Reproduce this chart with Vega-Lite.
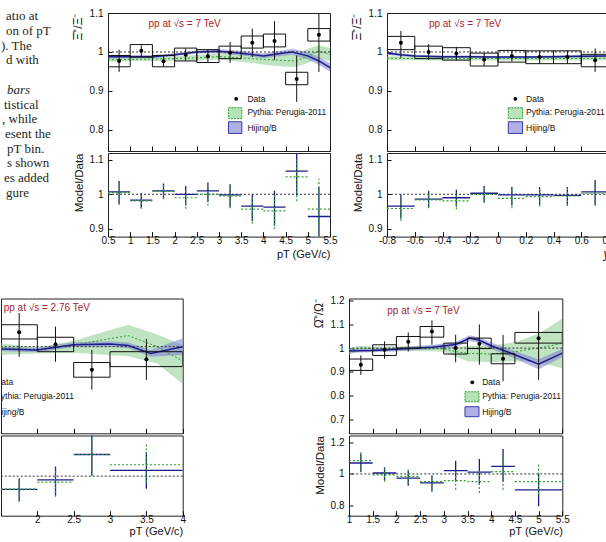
{
"$schema":"https://vega.github.io/schema/vega-lite/v6.json",
"padding":{"left":0,"top":7,"right":0,"bottom":0},
"background":"#ffffff",
"config":{
 "view":{"stroke":"#222","strokeWidth":1},
 "axis":{"grid":false,"domain":false,"labelFont":"Liberation Sans","labelFontSize":10,"labelColor":"#111","tickColor":"#111","tickWidth":1,"titleFont":"Liberation Sans","titleFontWeight":"normal","titleColor":"#111","titleFontSize":11,"labelFlush":false,"labelOverlap":false,"tickCount":30}
},
"datasets":{
 "one":[{"v":1}],
 "txt":[
  {"line":1,"indent":5,"t":"atio at","it":0},
  {"line":2,"indent":5,"t":"on of pT","it":0},
  {"line":3,"indent":0,"t":"). The","it":0},
  {"line":4,"indent":5,"t":"d with","it":0},
  {"line":6,"indent":6,"t":"bars","it":1},
  {"line":7,"indent":3,"t":"tistical","it":0},
  {"line":8,"indent":1,"t":", while","it":0},
  {"line":9,"indent":4,"t":"esent the","it":0},
  {"line":10,"indent":6,"t":"pT bin.","it":0},
  {"line":11,"indent":6,"t":"s shown","it":0},
  {"line":12,"indent":3,"t":"es added","it":0},
  {"line":13,"indent":5,"t":"gure","it":0}
 ],
 "pts":[
  {"p":"A","x":0.75,"xlo":0.5,"xhi":1,"y":0.977,"elo":0.949,"ehi":1.006,"slo":0.962,"shi":0.991},
  {"p":"A","x":1.25,"xlo":1,"xhi":1.5,"y":1.003,"elo":0.987,"ehi":1.017,"slo":0.987,"shi":1.019},
  {"p":"A","x":1.75,"xlo":1.5,"xhi":2,"y":0.976,"elo":0.963,"ehi":0.989,"slo":0.962,"shi":0.991},
  {"p":"A","x":2.25,"xlo":2,"xhi":2.5,"y":0.993,"elo":0.977,"ehi":1.009,"slo":0.977,"shi":1.01},
  {"p":"A","x":2.75,"xlo":2.5,"xhi":3,"y":0.989,"elo":0.972,"ehi":1.006,"slo":0.973,"shi":1.006},
  {"p":"A","x":3.25,"xlo":3,"xhi":3.5,"y":0.998,"elo":0.972,"ehi":1.026,"slo":0.983,"shi":1.015},
  {"p":"A","x":3.75,"xlo":3.5,"xhi":4,"y":1.024,"elo":0.987,"ehi":1.06,"slo":1.01,"shi":1.041},
  {"p":"A","x":4.25,"xlo":4,"xhi":4.5,"y":1.028,"elo":0.98,"ehi":1.079,"slo":1.013,"shi":1.046},
  {"p":"A","x":4.75,"xlo":4.5,"xhi":5,"y":0.931,"elo":0.872,"ehi":0.991,"slo":0.916,"shi":0.948},
  {"p":"A","x":5.25,"xlo":5,"xhi":5.5,"y":1.044,"elo":0.949,"ehi":1.1,"slo":1.028,"shi":1.06},
  {"p":"B","x":-0.7,"xlo":-0.8,"xhi":-0.6,"y":1.024,"elo":0.985,"ehi":1.054,"slo":1.006,"shi":1.04},
  {"p":"B","x":-0.5,"xlo":-0.6,"xhi":-0.4,"y":1.0,"elo":0.98,"ehi":1.02,"slo":0.983,"shi":1.015},
  {"p":"B","x":-0.3,"xlo":-0.4,"xhi":-0.2,"y":0.996,"elo":0.979,"ehi":1.013,"slo":0.979,"shi":1.011},
  {"p":"B","x":-0.1,"xlo":-0.2,"xhi":0,"y":0.981,"elo":0.964,"ehi":0.997,"slo":0.964,"shi":0.997},
  {"p":"B","x":0.1,"xlo":0,"xhi":0.2,"y":0.99,"elo":0.976,"ehi":1.004,"slo":0.974,"shi":1.004},
  {"p":"B","x":0.3,"xlo":0.2,"xhi":0.4,"y":0.987,"elo":0.97,"ehi":1.004,"slo":0.97,"shi":1.003},
  {"p":"B","x":0.5,"xlo":0.4,"xhi":0.6,"y":0.987,"elo":0.97,"ehi":1.004,"slo":0.97,"shi":1.003},
  {"p":"B","x":0.7,"xlo":0.6,"xhi":0.8,"y":0.979,"elo":0.949,"ehi":1.009,"slo":0.962,"shi":0.994},
  {"p":"C","x":1.75,"xlo":1.5,"xhi":2,"y":1.06,"elo":0.958,"ehi":1.14,"slo":1.032,"shi":1.091},
  {"p":"C","x":2.25,"xlo":2,"xhi":2.5,"y":1.01,"elo":0.937,"ehi":1.083,"slo":0.979,"shi":1.039},
  {"p":"C","x":2.75,"xlo":2.5,"xhi":3,"y":0.904,"elo":0.821,"ehi":0.986,"slo":0.873,"shi":0.934},
  {"p":"C","x":3.5,"xlo":3,"xhi":4,"y":0.948,"elo":0.862,"ehi":1.032,"slo":0.917,"shi":0.979},
  {"p":"D","x":1.25,"xlo":1,"xhi":1.5,"y":0.93,"elo":0.887,"ehi":0.969,"slo":0.906,"shi":0.954},
  {"p":"D","x":1.75,"xlo":1.5,"xhi":2,"y":0.993,"elo":0.955,"ehi":1.028,"slo":0.969,"shi":1.014},
  {"p":"D","x":2.25,"xlo":2,"xhi":2.5,"y":1.027,"elo":0.986,"ehi":1.066,"slo":1.0,"shi":1.049},
  {"p":"D","x":2.75,"xlo":2.5,"xhi":3,"y":1.07,"elo":1.014,"ehi":1.117,"slo":1.046,"shi":1.091},
  {"p":"D","x":3.25,"xlo":3,"xhi":3.5,"y":1.0,"elo":0.94,"ehi":1.056,"slo":0.975,"shi":1.021},
  {"p":"D","x":3.75,"xlo":3.5,"xhi":4,"y":1.018,"elo":0.93,"ehi":1.1,"slo":0.998,"shi":1.042},
  {"p":"D","x":4.25,"xlo":4,"xhi":4.5,"y":0.955,"elo":0.86,"ehi":1.056,"slo":0.934,"shi":0.976},
  {"p":"D","x":5,"xlo":4.5,"xhi":5.5,"y":1.042,"elo":0.866,"ehi":1.155,"slo":1.021,"shi":1.066}
 ],
 "band":[
  {"p":"A","m":"P","x":0.5,"c":0.98,"lo":0.975,"hi":0.985},
  {"p":"A","m":"P","x":1,"c":0.981,"lo":0.976,"hi":0.986},
  {"p":"A","m":"P","x":1.5,"c":0.982,"lo":0.977,"hi":0.987},
  {"p":"A","m":"P","x":2,"c":0.983,"lo":0.977,"hi":0.989},
  {"p":"A","m":"P","x":2.5,"c":0.985,"lo":0.978,"hi":0.992},
  {"p":"A","m":"P","x":3,"c":0.988,"lo":0.98,"hi":0.996},
  {"p":"A","m":"P","x":3.5,"c":0.985,"lo":0.975,"hi":0.995},
  {"p":"A","m":"P","x":4,"c":0.981,"lo":0.968,"hi":0.994},
  {"p":"A","m":"P","x":4.5,"c":0.978,"lo":0.962,"hi":0.995},
  {"p":"A","m":"P","x":4.75,"c":0.977,"lo":0.962,"hi":0.995},
  {"p":"A","m":"P","x":5,"c":0.99,"lo":0.972,"hi":1.008},
  {"p":"A","m":"P","x":5.25,"c":1.002,"lo":0.984,"hi":1.017},
  {"p":"A","m":"P","x":5.5,"c":0.994,"lo":0.976,"hi":1.01},
  {"p":"A","m":"H","x":0.5,"c":0.988,"lo":0.983,"hi":0.993},
  {"p":"A","m":"H","x":1,"c":0.988,"lo":0.984,"hi":0.992},
  {"p":"A","m":"H","x":1.5,"c":0.988,"lo":0.984,"hi":0.992},
  {"p":"A","m":"H","x":2,"c":0.993,"lo":0.989,"hi":0.997},
  {"p":"A","m":"H","x":2.5,"c":1.0,"lo":0.996,"hi":1.004},
  {"p":"A","m":"H","x":3,"c":1.002,"lo":0.997,"hi":1.007},
  {"p":"A","m":"H","x":3.5,"c":0.997,"lo":0.991,"hi":1.003},
  {"p":"A","m":"H","x":4,"c":0.99,"lo":0.984,"hi":0.996},
  {"p":"A","m":"H","x":4.5,"c":0.998,"lo":0.991,"hi":1.005},
  {"p":"A","m":"H","x":4.65,"c":1.0,"lo":0.993,"hi":1.008},
  {"p":"A","m":"H","x":5,"c":0.99,"lo":0.981,"hi":0.999},
  {"p":"A","m":"H","x":5.25,"c":0.977,"lo":0.967,"hi":0.987},
  {"p":"A","m":"H","x":5.5,"c":0.96,"lo":0.949,"hi":0.971},
  {"p":"B","m":"P","x":-0.8,"c":0.984,"lo":0.979,"hi":0.989},
  {"p":"B","m":"P","x":-0.4,"c":0.983,"lo":0.978,"hi":0.988},
  {"p":"B","m":"P","x":0,"c":0.983,"lo":0.978,"hi":0.988},
  {"p":"B","m":"P","x":0.4,"c":0.983,"lo":0.978,"hi":0.988},
  {"p":"B","m":"P","x":0.8,"c":0.984,"lo":0.979,"hi":0.989},
  {"p":"B","m":"H","x":-0.8,"c":0.997,"lo":0.993,"hi":1.001},
  {"p":"B","m":"H","x":-0.7,"c":0.993,"lo":0.989,"hi":0.997},
  {"p":"B","m":"H","x":-0.6,"c":0.99,"lo":0.987,"hi":0.993},
  {"p":"B","m":"H","x":-0.4,"c":0.988,"lo":0.985,"hi":0.991},
  {"p":"B","m":"H","x":-0.2,"c":0.988,"lo":0.985,"hi":0.991},
  {"p":"B","m":"H","x":0,"c":0.987,"lo":0.984,"hi":0.99},
  {"p":"B","m":"H","x":0.2,"c":0.987,"lo":0.984,"hi":0.99},
  {"p":"B","m":"H","x":0.4,"c":0.988,"lo":0.985,"hi":0.991},
  {"p":"B","m":"H","x":0.6,"c":0.989,"lo":0.986,"hi":0.992},
  {"p":"B","m":"H","x":0.8,"c":0.99,"lo":0.987,"hi":0.993},
  {"p":"C","m":"P","x":1.5,"c":0.995,"lo":0.965,"hi":1.014},
  {"p":"C","m":"P","x":2,"c":0.986,"lo":0.972,"hi":0.996},
  {"p":"C","m":"P","x":2.5,"c":1.007,"lo":0.975,"hi":1.025},
  {"p":"C","m":"P","x":3.25,"c":1.046,"lo":0.96,"hi":1.091},
  {"p":"C","m":"P","x":3.65,"c":1.0,"lo":0.93,"hi":1.05},
  {"p":"C","m":"P","x":4,"c":0.94,"lo":0.845,"hi":1.007},
  {"p":"C","m":"H","x":1.5,"c":0.99,"lo":0.981,"hi":0.999},
  {"p":"C","m":"H","x":2,"c":0.986,"lo":0.977,"hi":0.995},
  {"p":"C","m":"H","x":2.5,"c":1.008,"lo":0.998,"hi":1.018},
  {"p":"C","m":"H","x":3,"c":1.011,"lo":1.0,"hi":1.022},
  {"p":"C","m":"H","x":3.25,"c":1.005,"lo":0.993,"hi":1.017},
  {"p":"C","m":"H","x":3.56,"c":0.972,"lo":0.958,"hi":0.986},
  {"p":"C","m":"H","x":4,"c":1.0,"lo":0.965,"hi":1.035},
  {"p":"D","m":"P","x":1,"c":0.99,"lo":0.972,"hi":1.0},
  {"p":"D","m":"P","x":1.25,"c":1.0,"lo":0.99,"hi":1.01},
  {"p":"D","m":"P","x":1.5,"c":0.997,"lo":0.987,"hi":1.007},
  {"p":"D","m":"P","x":2,"c":0.997,"lo":0.987,"hi":1.008},
  {"p":"D","m":"P","x":2.5,"c":0.998,"lo":0.988,"hi":1.01},
  {"p":"D","m":"P","x":3,"c":0.997,"lo":0.985,"hi":1.01},
  {"p":"D","m":"P","x":3.25,"c":0.985,"lo":0.965,"hi":1.005},
  {"p":"D","m":"P","x":3.5,"c":0.978,"lo":0.945,"hi":1.01},
  {"p":"D","m":"P","x":4,"c":0.975,"lo":0.94,"hi":1.01},
  {"p":"D","m":"P","x":4.5,"c":0.985,"lo":0.945,"hi":1.025},
  {"p":"D","m":"P","x":5,"c":1.0,"lo":0.94,"hi":1.06},
  {"p":"D","m":"P","x":5.5,"c":1.02,"lo":0.915,"hi":1.125},
  {"p":"D","m":"H","x":1,"c":0.988,"lo":0.98,"hi":0.996},
  {"p":"D","m":"H","x":1.5,"c":0.99,"lo":0.982,"hi":0.998},
  {"p":"D","m":"H","x":2,"c":0.995,"lo":0.987,"hi":1.003},
  {"p":"D","m":"H","x":2.75,"c":1.004,"lo":0.995,"hi":1.013},
  {"p":"D","m":"H","x":3.25,"c":1.015,"lo":1.004,"hi":1.026},
  {"p":"D","m":"H","x":3.55,"c":1.042,"lo":1.03,"hi":1.054},
  {"p":"D","m":"H","x":3.75,"c":1.033,"lo":1.021,"hi":1.045},
  {"p":"D","m":"H","x":4,"c":1.01,"lo":0.996,"hi":1.024},
  {"p":"D","m":"H","x":4.5,"c":0.972,"lo":0.956,"hi":0.988},
  {"p":"D","m":"H","x":5,"c":0.932,"lo":0.911,"hi":0.953},
  {"p":"D","m":"H","x":5.5,"c":0.979,"lo":0.962,"hi":0.996}
 ],
 "ratio":[
  {"p":"A","m":"H","x":0.75,"xlo":0.5,"xhi":1,"r":1.007,"rlo":0.971,"rhi":1.038},
  {"p":"A","m":"H","x":1.25,"xlo":1,"xhi":1.5,"r":0.983,"rlo":0.96,"rhi":1.003},
  {"p":"A","m":"H","x":1.75,"xlo":1.5,"xhi":2,"r":1.01,"rlo":0.988,"rhi":1.031},
  {"p":"A","m":"H","x":2.25,"xlo":2,"xhi":2.5,"r":1.0,"rlo":0.968,"rhi":1.024},
  {"p":"A","m":"H","x":2.75,"xlo":2.5,"xhi":3,"r":1.01,"rlo":0.978,"rhi":1.034},
  {"p":"A","m":"H","x":3.25,"xlo":3,"xhi":3.5,"r":0.998,"rlo":0.963,"rhi":1.029},
  {"p":"A","m":"H","x":3.75,"xlo":3.5,"xhi":4,"r":0.966,"rlo":0.923,"rhi":1.0},
  {"p":"A","m":"H","x":4.25,"xlo":4,"xhi":4.5,"r":0.963,"rlo":0.909,"rhi":1.01},
  {"p":"A","m":"H","x":4.75,"xlo":4.5,"xhi":5,"r":1.067,"rlo":0.997,"rhi":1.12},
  {"p":"A","m":"H","x":5.25,"xlo":5,"xhi":5.5,"r":0.936,"rlo":0.877,"rhi":1.02},
  {"p":"A","m":"P","x":0.75,"xlo":0.5,"xhi":1,"r":1.005,"rlo":0.97,"rhi":1.037},
  {"p":"A","m":"P","x":1.25,"xlo":1,"xhi":1.5,"r":0.981,"rlo":0.958,"rhi":1.001},
  {"p":"A","m":"P","x":1.75,"xlo":1.5,"xhi":2,"r":1.008,"rlo":0.986,"rhi":1.029},
  {"p":"A","m":"P","x":2.25,"xlo":2,"xhi":2.5,"r":0.99,"rlo":0.958,"rhi":1.014},
  {"p":"A","m":"P","x":2.75,"xlo":2.5,"xhi":3,"r":1.0,"rlo":0.968,"rhi":1.024},
  {"p":"A","m":"P","x":3.25,"xlo":3,"xhi":3.5,"r":0.995,"rlo":0.96,"rhi":1.026},
  {"p":"A","m":"P","x":3.75,"xlo":3.5,"xhi":4,"r":0.957,"rlo":0.915,"rhi":0.992},
  {"p":"A","m":"P","x":4.25,"xlo":4,"xhi":4.5,"r":0.952,"rlo":0.899,"rhi":0.998},
  {"p":"A","m":"P","x":4.75,"xlo":4.5,"xhi":5,"r":1.05,"rlo":0.98,"rhi":1.1},
  {"p":"A","m":"P","x":5.25,"xlo":5,"xhi":5.5,"r":0.957,"rlo":0.88,"rhi":1.045},
  {"p":"B","m":"H","x":-0.7,"xlo":-0.8,"xhi":-0.6,"r":0.966,"rlo":0.93,"rhi":1.0},
  {"p":"B","m":"H","x":-0.5,"xlo":-0.6,"xhi":-0.4,"r":0.986,"rlo":0.962,"rhi":1.01},
  {"p":"B","m":"H","x":-0.3,"xlo":-0.4,"xhi":-0.2,"r":0.99,"rlo":0.965,"rhi":1.013},
  {"p":"B","m":"H","x":-0.1,"xlo":-0.2,"xhi":0,"r":1.003,"rlo":0.978,"rhi":1.024},
  {"p":"B","m":"H","x":0.1,"xlo":0,"xhi":0.2,"r":0.998,"rlo":0.968,"rhi":1.022},
  {"p":"B","m":"H","x":0.3,"xlo":0.2,"xhi":0.4,"r":0.998,"rlo":0.97,"rhi":1.021},
  {"p":"B","m":"H","x":0.5,"xlo":0.4,"xhi":0.6,"r":0.997,"rlo":0.968,"rhi":1.021},
  {"p":"B","m":"H","x":0.7,"xlo":0.6,"xhi":0.8,"r":1.007,"rlo":0.97,"rhi":1.041},
  {"p":"B","m":"P","x":-0.7,"xlo":-0.8,"xhi":-0.6,"r":0.959,"rlo":0.924,"rhi":0.994},
  {"p":"B","m":"P","x":-0.5,"xlo":-0.6,"xhi":-0.4,"r":0.984,"rlo":0.96,"rhi":1.008},
  {"p":"B","m":"P","x":-0.3,"xlo":-0.4,"xhi":-0.2,"r":0.981,"rlo":0.957,"rhi":1.004},
  {"p":"B","m":"P","x":-0.1,"xlo":-0.2,"xhi":0,"r":1.0,"rlo":0.975,"rhi":1.021},
  {"p":"B","m":"P","x":0.1,"xlo":0,"xhi":0.2,"r":0.988,"rlo":0.96,"rhi":1.013},
  {"p":"B","m":"P","x":0.3,"xlo":0.2,"xhi":0.4,"r":0.993,"rlo":0.965,"rhi":1.016},
  {"p":"B","m":"P","x":0.5,"xlo":0.4,"xhi":0.6,"r":0.995,"rlo":0.966,"rhi":1.019},
  {"p":"B","m":"P","x":0.7,"xlo":0.6,"xhi":0.8,"r":1.003,"rlo":0.966,"rhi":1.037},
  {"p":"C","m":"H","x":1.75,"xlo":1.5,"xhi":2,"r":0.916,"rlo":0.84,"rhi":0.987},
  {"p":"C","m":"H","x":2.25,"xlo":2,"xhi":2.5,"r":0.977,"rlo":0.878,"rhi":1.061},
  {"p":"C","m":"H","x":2.75,"xlo":2.5,"xhi":3,"r":1.137,"rlo":1.004,"rhi":1.26},
  {"p":"C","m":"H","x":3.5,"xlo":3,"xhi":4,"r":1.036,"rlo":0.92,"rhi":1.152},
  {"p":"C","m":"P","x":1.75,"xlo":1.5,"xhi":2,"r":0.918,"rlo":0.842,"rhi":0.99},
  {"p":"C","m":"P","x":2.25,"xlo":2,"xhi":2.5,"r":0.962,"rlo":0.87,"rhi":1.05},
  {"p":"C","m":"P","x":2.75,"xlo":2.5,"xhi":3,"r":1.137,"rlo":1.0,"rhi":1.26},
  {"p":"C","m":"P","x":3.5,"xlo":3,"xhi":4,"r":1.072,"rlo":0.96,"rhi":1.205},
  {"p":"D","m":"H","x":1.25,"xlo":1,"xhi":1.5,"r":1.069,"rlo":1.01,"rhi":1.126},
  {"p":"D","m":"H","x":1.75,"xlo":1.5,"xhi":2,"r":1.006,"rlo":0.96,"rhi":1.042},
  {"p":"D","m":"H","x":2.25,"xlo":2,"xhi":2.5,"r":0.973,"rlo":0.926,"rhi":1.021},
  {"p":"D","m":"H","x":2.75,"xlo":2.5,"xhi":3,"r":0.943,"rlo":0.888,"rhi":0.99},
  {"p":"D","m":"H","x":3.25,"xlo":3,"xhi":3.5,"r":1.021,"rlo":0.95,"rhi":1.084},
  {"p":"D","m":"H","x":3.75,"xlo":3.5,"xhi":4,"r":1.011,"rlo":0.93,"rhi":1.095},
  {"p":"D","m":"H","x":4.25,"xlo":4,"xhi":4.5,"r":1.048,"rlo":0.95,"rhi":1.158},
  {"p":"D","m":"H","x":5,"xlo":4.5,"xhi":5.5,"r":0.899,"rlo":0.796,"rhi":1.0},
  {"p":"D","m":"P","x":1.25,"xlo":1,"xhi":1.5,"r":1.084,"rlo":1.025,"rhi":1.14},
  {"p":"D","m":"P","x":1.75,"xlo":1.5,"xhi":2,"r":0.994,"rlo":0.95,"rhi":1.035},
  {"p":"D","m":"P","x":2.25,"xlo":2,"xhi":2.5,"r":0.985,"rlo":0.94,"rhi":1.03},
  {"p":"D","m":"P","x":2.75,"xlo":2.5,"xhi":3,"r":0.952,"rlo":0.9,"rhi":1.0},
  {"p":"D","m":"P","x":3.25,"xlo":3,"xhi":3.5,"r":0.958,"rlo":0.9,"rhi":1.02},
  {"p":"D","m":"P","x":3.75,"xlo":3.5,"xhi":4,"r":0.952,"rlo":0.88,"rhi":1.02},
  {"p":"D","m":"P","x":4.25,"xlo":4,"xhi":4.5,"r":1.015,"rlo":0.9,"rhi":1.12},
  {"p":"D","m":"P","x":5,"xlo":4.5,"xhi":5.5,"r":0.952,"rlo":0.87,"rhi":1.07}
 ],
 "legtxt":[
  {"p":"A","t":"Data","x":3.64,"y":0.88},{"p":"A","t":"Pythia: Perugia-2011","x":3.64,"y":0.845},{"p":"A","t":"Hijing/B","x":3.64,"y":0.806},
  {"p":"B","t":"Data","x":0.202,"y":0.88},{"p":"B","t":"Pythia: Perugia-2011","x":0.202,"y":0.845},{"p":"B","t":"Hijing/B","x":0.202,"y":0.806},
  {"p":"C","t":"Data","x":1.42,"y":0.852},{"p":"C","t":"Pythia: Perugia-2011","x":1.42,"y":0.795},{"p":"C","t":"Hijing/B","x":1.42,"y":0.73},
  {"p":"D","t":"Data","x":3.81,"y":0.856},{"p":"D","t":"Pythia: Perugia-2011","x":3.81,"y":0.798},{"p":"D","t":"Hijing/B","x":3.81,"y":0.732}
 ],
 "legdot":[{"p":"A","x":3.387,"y":0.88},{"p":"B","x":0.125,"y":0.88},{"p":"D","x":3.6,"y":0.856}],
 "legbox":[
  {"p":"A","m":"P","xa":3.214,"xb":3.514,"ya":0.829,"yb":0.857},{"p":"A","m":"H","xa":3.214,"xb":3.514,"ya":0.791,"yb":0.821},
  {"p":"B","m":"P","xa":0.074,"xb":0.177,"ya":0.829,"yb":0.857},{"p":"B","m":"H","xa":0.074,"xb":0.177,"ya":0.791,"yb":0.821},
  {"p":"D","m":"P","xa":3.447,"xb":3.742,"ya":0.774,"yb":0.816},{"p":"D","m":"H","xa":3.447,"xb":3.742,"ya":0.711,"yb":0.753}
 ],
 "ttl":[
  {"p":"A","t":"pp at \u221As = 7 TeV","x":1.412,"y":1.071},
  {"p":"B","t":"pp at \u221As = 7 TeV","x":-0.498,"y":1.071},
  {"p":"C","t":"pp at \u221As = 2.76 TeV","x":1.537,"y":1.162},
  {"p":"D","t":"pp at \u221As = 7 TeV","x":1.808,"y":1.158}
 ]
},
"spacing":34.5,
"vconcat":[
 {"spacing":11,"hconcat":[
  {"width":57.5,"height":210,"view":{"stroke":"transparent"},"data":{"name":"txt"},"layer":[
   {"transform":[{"filter":"datum.it==0"}],"mark":{"type":"text","align":"left","baseline":"alphabetic","font":"Liberation Serif","fontSize":13,"color":"#231f20","clip":true},
    "encoding":{"x":{"field":"indent","type":"quantitative","scale":{"domain":[0,57.5],"nice":false,"zero":false},"axis":null},"y":{"field":"line","type":"quantitative","scale":{"domain":[0.503,14.789],"reverse":true,"nice":false,"zero":false},"axis":null},"text":{"field":"t"}}},
   {"transform":[{"filter":"datum.it==1"}],"mark":{"type":"text","align":"left","baseline":"alphabetic","font":"Liberation Serif","fontSize":13,"fontStyle":"italic","color":"#231f20","clip":true},
    "encoding":{"x":{"field":"indent","type":"quantitative","axis":null},"y":{"field":"line","type":"quantitative","axis":null},"text":{"field":"t"}}}
  ]},
  {"spacing":0,"vconcat":[
   {"width":222,"height":138,"layer":[
    {"data":{"name":"band"},"transform":[{"filter":"datum.p=='A'&&datum.m=='P'"}],"mark":{"type":"area","color":"#74c476","opacity":0.45,"clip":true},
     "encoding":{"x":{"field":"x","type":"quantitative","scale":{"domain":[0.5,5.5],"nice":false,"zero":false},"axis":{"values":[0.5,1,1.5,2,2.5,3,3.5,4,4.5,5,5.5],"tickCount":30,"labels":false,"tickSize":-5,"title":null}},
      "y":{"field":"lo","type":"quantitative","scale":{"domain":[0.746,1.1],"nice":false,"zero":false},"axis":{"values":[0.8,0.9,1,1.1],"tickCount":30,"format":".1~f","labelOverlap":false,"tickSize":-4,"labelPadding":9,"title":"\u039E\u0304\u207A/\u039E\u207B","titleAnchor":"end","titleFontSize":12,"titlePadding":5}},
      "y2":{"field":"hi"}}},
    {"data":{"name":"band"},"transform":[{"filter":"datum.p=='A'&&datum.m=='H'"}],"mark":{"type":"area","color":"#7b7bd6","opacity":0.55,"clip":true},
     "encoding":{"x":{"field":"x","type":"quantitative"},"y":{"field":"lo","type":"quantitative"},"y2":{"field":"hi"}}},
    {"data":{"name":"band"},"transform":[{"filter":"datum.p=='A'&&datum.m=='P'"}],"mark":{"type":"line","color":"#2ca02c","strokeWidth":1,"strokeDash":[2,2],"clip":true},
     "encoding":{"x":{"field":"x","type":"quantitative"},"y":{"field":"c","type":"quantitative"}}},
    {"data":{"name":"band"},"transform":[{"filter":"datum.p=='A'&&datum.m=='H'"}],"mark":{"type":"line","color":"#1c1c8a","strokeWidth":1.5,"clip":true},
     "encoding":{"x":{"field":"x","type":"quantitative"},"y":{"field":"c","type":"quantitative"}}},
    {"data":{"name":"one"},"mark":{"type":"rule","color":"#333","strokeDash":[2,2],"strokeWidth":1},"encoding":{"y":{"field":"v","type":"quantitative"}}},
    {"data":{"name":"pts"},"transform":[{"filter":"datum.p=='A'"}],"mark":{"type":"rect","fill":"transparent","stroke":"#111","strokeWidth":1,"clip":true},
     "encoding":{"x":{"field":"xlo","type":"quantitative"},"x2":{"field":"xhi"},"y":{"field":"slo","type":"quantitative"},"y2":{"field":"shi"}}},
    {"data":{"name":"pts"},"transform":[{"filter":"datum.p=='A'"}],"mark":{"type":"rule","color":"#111","strokeWidth":1,"clip":true},
     "encoding":{"x":{"field":"x","type":"quantitative"},"y":{"field":"elo","type":"quantitative"},"y2":{"field":"ehi"}}},
    {"data":{"name":"pts"},"transform":[{"filter":"datum.p=='A'"}],"mark":{"type":"circle","color":"#000","size":16,"opacity":1},
     "encoding":{"x":{"field":"x","type":"quantitative"},"y":{"field":"y","type":"quantitative"}}},
    {"data":{"name":"legbox"},"transform":[{"filter":"datum.p=='A'&&datum.m=='P'"}],"mark":{"type":"rect","fill":"#74c476","fillOpacity":0.5,"stroke":"#2ca02c","strokeDash":[2,1],"strokeWidth":1},
     "encoding":{"x":{"field":"xa","type":"quantitative"},"x2":{"field":"xb"},"y":{"field":"ya","type":"quantitative"},"y2":{"field":"yb"}}},
    {"data":{"name":"legbox"},"transform":[{"filter":"datum.p=='A'&&datum.m=='H'"}],"mark":{"type":"rect","fill":"#7b7bd6","fillOpacity":0.6,"stroke":"#3a3aa8","strokeWidth":1},
     "encoding":{"x":{"field":"xa","type":"quantitative"},"x2":{"field":"xb"},"y":{"field":"ya","type":"quantitative"},"y2":{"field":"yb"}}},
    {"data":{"name":"legdot"},"transform":[{"filter":"datum.p=='A'"}],"mark":{"type":"circle","color":"#000","size":14,"opacity":1},
     "encoding":{"x":{"field":"x","type":"quantitative"},"y":{"field":"y","type":"quantitative"}}},
    {"data":{"name":"legtxt"},"transform":[{"filter":"datum.p=='A'"}],"mark":{"type":"text","align":"left","baseline":"middle","fontSize":8.5,"font":"Liberation Sans","color":"#111","clip":true},
     "encoding":{"x":{"field":"x","type":"quantitative"},"y":{"field":"y","type":"quantitative"},"text":{"field":"t"}}},
    {"data":{"name":"ttl"},"transform":[{"filter":"datum.p=='A'"}],"mark":{"type":"text","align":"left","baseline":"middle","fontSize":10,"font":"Liberation Sans","color":"#a8232e","clip":true},
     "encoding":{"x":{"field":"x","type":"quantitative"},"y":{"field":"y","type":"quantitative"},"text":{"field":"t"}}}
   ]},
   {"width":222,"height":83.6,"layer":[
    {"data":{"name":"one"},"mark":{"type":"rule","color":"#333","strokeDash":[2,2],"strokeWidth":1},"encoding":{"y":{"field":"v","type":"quantitative"}}},
    {"data":{"name":"ratio"},"transform":[{"filter":"datum.p=='A'&&datum.m=='H'"}],"mark":{"type":"rule","color":"#1c1c8a","strokeWidth":1.3,"clip":true},
     "encoding":{"x":{"field":"xlo","type":"quantitative","scale":{"domain":[0.5,5.5],"nice":false,"zero":false},"axis":{"values":[0.5,1,1.5,2,2.5,3,3.5,4,4.5,5,5.5],"tickCount":30,"format":".1~f","labelOverlap":false,"tickSize":-5,"labelPadding":4,"title":"pT (GeV/c)","titleAnchor":"end","titlePadding":2.5}},"x2":{"field":"xhi"},
      "y":{"field":"r","type":"quantitative","scale":{"domain":[0.878,1.119],"nice":false,"zero":false},"axis":{"values":[0.9,1,1.1],"tickCount":30,"format":".1~f","labelOverlap":false,"tickSize":-4,"labelPadding":9,"title":"Model/Data","titleAnchor":"end","titleFontSize":11.5,"titlePadding":5}}}},
    {"data":{"name":"ratio"},"transform":[{"filter":"datum.p=='A'&&datum.m=='H'"}],"mark":{"type":"rule","color":"#1c1c8a","strokeWidth":1.3,"clip":true},
     "encoding":{"x":{"field":"x","type":"quantitative"},"y":{"field":"rlo","type":"quantitative"},"y2":{"field":"rhi"}}},
    {"data":{"name":"ratio"},"transform":[{"filter":"datum.p=='A'&&datum.m=='P'"}],"mark":{"type":"rule","color":"#2ca02c","strokeWidth":1.2,"strokeDash":[2,2],"clip":true},
     "encoding":{"x":{"field":"xlo","type":"quantitative"},"x2":{"field":"xhi"},"y":{"field":"r","type":"quantitative"}}},
    {"data":{"name":"ratio"},"transform":[{"filter":"datum.p=='A'&&datum.m=='P'"}],"mark":{"type":"rule","color":"#2ca02c","strokeWidth":1.2,"strokeDash":[2,2],"clip":true},
     "encoding":{"x":{"field":"x","type":"quantitative"},"y":{"field":"rlo","type":"quantitative"},"y2":{"field":"rhi"}}}
   ]}
  ]},
  {"spacing":0,"vconcat":[
   {"width":222,"height":138,"layer":[
    {"data":{"name":"band"},"transform":[{"filter":"datum.p=='B'&&datum.m=='P'"}],"mark":{"type":"area","color":"#74c476","opacity":0.45,"clip":true},
     "encoding":{"x":{"field":"x","type":"quantitative","scale":{"domain":[-0.8,0.8],"nice":false,"zero":false},"axis":{"values":[-0.8,-0.6,-0.4,-0.2,0,0.2,0.4,0.6,0.8],"tickCount":30,"labels":false,"tickSize":-5,"title":null}},
      "y":{"field":"lo","type":"quantitative","scale":{"domain":[0.746,1.1],"nice":false,"zero":false},"axis":{"values":[0.8,0.9,1,1.1],"tickCount":30,"format":".1~f","labelOverlap":false,"tickSize":-4,"labelPadding":9,"title":"\u039E\u0304\u207A/\u039E\u207B","titleAnchor":"end","titleFontSize":12,"titlePadding":5}},
      "y2":{"field":"hi"}}},
    {"data":{"name":"band"},"transform":[{"filter":"datum.p=='B'&&datum.m=='H'"}],"mark":{"type":"area","color":"#7b7bd6","opacity":0.55,"clip":true},
     "encoding":{"x":{"field":"x","type":"quantitative"},"y":{"field":"lo","type":"quantitative"},"y2":{"field":"hi"}}},
    {"data":{"name":"band"},"transform":[{"filter":"datum.p=='B'&&datum.m=='P'"}],"mark":{"type":"line","color":"#2ca02c","strokeWidth":1,"strokeDash":[2,2],"clip":true},
     "encoding":{"x":{"field":"x","type":"quantitative"},"y":{"field":"c","type":"quantitative"}}},
    {"data":{"name":"band"},"transform":[{"filter":"datum.p=='B'&&datum.m=='H'"}],"mark":{"type":"line","color":"#1c1c8a","strokeWidth":1.5,"clip":true},
     "encoding":{"x":{"field":"x","type":"quantitative"},"y":{"field":"c","type":"quantitative"}}},
    {"data":{"name":"one"},"mark":{"type":"rule","color":"#333","strokeDash":[2,2],"strokeWidth":1},"encoding":{"y":{"field":"v","type":"quantitative"}}},
    {"data":{"name":"pts"},"transform":[{"filter":"datum.p=='B'"}],"mark":{"type":"rect","fill":"transparent","stroke":"#111","strokeWidth":1,"clip":true},
     "encoding":{"x":{"field":"xlo","type":"quantitative"},"x2":{"field":"xhi"},"y":{"field":"slo","type":"quantitative"},"y2":{"field":"shi"}}},
    {"data":{"name":"pts"},"transform":[{"filter":"datum.p=='B'"}],"mark":{"type":"rule","color":"#111","strokeWidth":1,"clip":true},
     "encoding":{"x":{"field":"x","type":"quantitative"},"y":{"field":"elo","type":"quantitative"},"y2":{"field":"ehi"}}},
    {"data":{"name":"pts"},"transform":[{"filter":"datum.p=='B'"}],"mark":{"type":"circle","color":"#000","size":16,"opacity":1},
     "encoding":{"x":{"field":"x","type":"quantitative"},"y":{"field":"y","type":"quantitative"}}},
    {"data":{"name":"legbox"},"transform":[{"filter":"datum.p=='B'&&datum.m=='P'"}],"mark":{"type":"rect","fill":"#74c476","fillOpacity":0.5,"stroke":"#2ca02c","strokeDash":[2,1],"strokeWidth":1},
     "encoding":{"x":{"field":"xa","type":"quantitative"},"x2":{"field":"xb"},"y":{"field":"ya","type":"quantitative"},"y2":{"field":"yb"}}},
    {"data":{"name":"legbox"},"transform":[{"filter":"datum.p=='B'&&datum.m=='H'"}],"mark":{"type":"rect","fill":"#7b7bd6","fillOpacity":0.6,"stroke":"#3a3aa8","strokeWidth":1},
     "encoding":{"x":{"field":"xa","type":"quantitative"},"x2":{"field":"xb"},"y":{"field":"ya","type":"quantitative"},"y2":{"field":"yb"}}},
    {"data":{"name":"legdot"},"transform":[{"filter":"datum.p=='B'"}],"mark":{"type":"circle","color":"#000","size":14,"opacity":1},
     "encoding":{"x":{"field":"x","type":"quantitative"},"y":{"field":"y","type":"quantitative"}}},
    {"data":{"name":"legtxt"},"transform":[{"filter":"datum.p=='B'"}],"mark":{"type":"text","align":"left","baseline":"middle","fontSize":8.5,"font":"Liberation Sans","color":"#111","clip":true},
     "encoding":{"x":{"field":"x","type":"quantitative"},"y":{"field":"y","type":"quantitative"},"text":{"field":"t"}}},
    {"data":{"name":"ttl"},"transform":[{"filter":"datum.p=='B'"}],"mark":{"type":"text","align":"left","baseline":"middle","fontSize":10,"font":"Liberation Sans","color":"#a8232e","clip":true},
     "encoding":{"x":{"field":"x","type":"quantitative"},"y":{"field":"y","type":"quantitative"},"text":{"field":"t"}}}
   ]},
   {"width":222,"height":83.6,"layer":[
    {"data":{"name":"one"},"mark":{"type":"rule","color":"#333","strokeDash":[2,2],"strokeWidth":1},"encoding":{"y":{"field":"v","type":"quantitative"}}},
    {"data":{"name":"ratio"},"transform":[{"filter":"datum.p=='B'&&datum.m=='H'"}],"mark":{"type":"rule","color":"#1c1c8a","strokeWidth":1.3,"clip":true},
     "encoding":{"x":{"field":"xlo","type":"quantitative","scale":{"domain":[-0.8,0.8],"nice":false,"zero":false},"axis":{"values":[-0.8,-0.6,-0.4,-0.2,0,0.2,0.4,0.6,0.8],"tickCount":30,"labelExpr":"replace(format(datum.value,'.1~f'),'\u2212','-')","labelOverlap":false,"tickSize":-5,"labelPadding":4,"title":"y","titleFontStyle":"italic","titleFontSize":12,"titleAnchor":"end","titlePadding":2.5}},"x2":{"field":"xhi"},
      "y":{"field":"r","type":"quantitative","scale":{"domain":[0.878,1.119],"nice":false,"zero":false},"axis":{"values":[0.9,1,1.1],"tickCount":30,"format":".1~f","labelOverlap":false,"tickSize":-4,"labelPadding":9,"title":"Model/Data","titleAnchor":"end","titleFontSize":11.5,"titlePadding":5}}}},
    {"data":{"name":"ratio"},"transform":[{"filter":"datum.p=='B'&&datum.m=='H'"}],"mark":{"type":"rule","color":"#1c1c8a","strokeWidth":1.3,"clip":true},
     "encoding":{"x":{"field":"x","type":"quantitative"},"y":{"field":"rlo","type":"quantitative"},"y2":{"field":"rhi"}}},
    {"data":{"name":"ratio"},"transform":[{"filter":"datum.p=='B'&&datum.m=='P'"}],"mark":{"type":"rule","color":"#2ca02c","strokeWidth":1.2,"strokeDash":[2,2],"clip":true},
     "encoding":{"x":{"field":"xlo","type":"quantitative"},"x2":{"field":"xhi"},"y":{"field":"r","type":"quantitative"}}},
    {"data":{"name":"ratio"},"transform":[{"filter":"datum.p=='B'&&datum.m=='P'"}],"mark":{"type":"rule","color":"#2ca02c","strokeWidth":1.2,"strokeDash":[2,2],"clip":true},
     "encoding":{"x":{"field":"x","type":"quantitative"},"y":{"field":"rlo","type":"quantitative"},"y2":{"field":"rhi"}}}
   ]}
  ]}
 ]},
 {"spacing":125,"hconcat":[
  {"spacing":0,"vconcat":[
   {"width":181.7,"height":134.8,"layer":[
    {"data":{"name":"band"},"transform":[{"filter":"datum.p=='C'&&datum.m=='P'"}],"mark":{"type":"area","color":"#74c476","opacity":0.45,"clip":true},
     "encoding":{"x":{"field":"x","type":"quantitative","scale":{"domain":[1.5,4],"nice":false,"zero":false},"axis":{"values":[1.5,2,2.5,3,3.5,4],"tickCount":30,"labels":false,"tickSize":-5,"title":null}},
      "y":{"field":"lo","type":"quantitative","scale":{"domain":[0.64,1.2],"nice":false,"zero":false},"axis":null},
      "y2":{"field":"hi"}}},
    {"data":{"name":"band"},"transform":[{"filter":"datum.p=='C'&&datum.m=='H'"}],"mark":{"type":"area","color":"#7b7bd6","opacity":0.55,"clip":true},
     "encoding":{"x":{"field":"x","type":"quantitative"},"y":{"field":"lo","type":"quantitative","axis":null},"y2":{"field":"hi"}}},
    {"data":{"name":"band"},"transform":[{"filter":"datum.p=='C'&&datum.m=='P'"}],"mark":{"type":"line","color":"#2ca02c","strokeWidth":1,"strokeDash":[2,2],"clip":true},
     "encoding":{"x":{"field":"x","type":"quantitative"},"y":{"field":"c","type":"quantitative","axis":null}}},
    {"data":{"name":"band"},"transform":[{"filter":"datum.p=='C'&&datum.m=='H'"}],"mark":{"type":"line","color":"#1c1c8a","strokeWidth":1.5,"clip":true},
     "encoding":{"x":{"field":"x","type":"quantitative"},"y":{"field":"c","type":"quantitative","axis":null}}},
    {"data":{"name":"one"},"mark":{"type":"rule","color":"#333","strokeDash":[2,2],"strokeWidth":1},"encoding":{"y":{"field":"v","type":"quantitative","axis":null}}},
    {"data":{"name":"pts"},"transform":[{"filter":"datum.p=='C'"}],"mark":{"type":"rect","fill":"transparent","stroke":"#111","strokeWidth":1,"clip":true},
     "encoding":{"x":{"field":"xlo","type":"quantitative"},"x2":{"field":"xhi"},"y":{"field":"slo","type":"quantitative","axis":null},"y2":{"field":"shi"}}},
    {"data":{"name":"pts"},"transform":[{"filter":"datum.p=='C'"}],"mark":{"type":"rule","color":"#111","strokeWidth":1,"clip":true},
     "encoding":{"x":{"field":"x","type":"quantitative"},"y":{"field":"elo","type":"quantitative","axis":null},"y2":{"field":"ehi"}}},
    {"data":{"name":"pts"},"transform":[{"filter":"datum.p=='C'"}],"mark":{"type":"circle","color":"#000","size":16,"opacity":1,"clip":true},
     "encoding":{"x":{"field":"x","type":"quantitative"},"y":{"field":"y","type":"quantitative","axis":null}}},
    {"data":{"name":"legtxt"},"transform":[{"filter":"datum.p=='C'"}],"mark":{"type":"text","align":"left","baseline":"middle","fontSize":8.5,"font":"Liberation Sans","color":"#111","clip":true},
     "encoding":{"x":{"field":"x","type":"quantitative"},"y":{"field":"y","type":"quantitative","axis":null},"text":{"field":"t"}}},
    {"data":{"name":"ttl"},"transform":[{"filter":"datum.p=='C'"}],"mark":{"type":"text","align":"left","baseline":"middle","fontSize":10,"font":"Liberation Sans","color":"#a8232e","clip":true},
     "encoding":{"x":{"field":"x","type":"quantitative"},"y":{"field":"y","type":"quantitative","axis":null},"text":{"field":"t"}}}
   ]},
   {"width":181.7,"height":80.2,"layer":[
    {"data":{"name":"one"},"mark":{"type":"rule","color":"#333","strokeDash":[2,2],"strokeWidth":1},"encoding":{"y":{"field":"v","type":"quantitative","axis":null}}},
    {"data":{"name":"ratio"},"transform":[{"filter":"datum.p=='C'&&datum.m=='H'"}],"mark":{"type":"rule","color":"#1c1c8a","strokeWidth":1.3,"clip":true},
     "encoding":{"x":{"field":"xlo","type":"quantitative","scale":{"domain":[1.5,4],"nice":false,"zero":false},"axis":{"values":[1.5,2,2.5,3,3.5,4],"tickCount":30,"labelExpr":"datum.value==1.5?'':format(datum.value,'.1~f')","labelOverlap":false,"tickSize":-5,"labelPadding":4,"title":"pT (GeV/c)","titleAnchor":"end","titlePadding":1}},"x2":{"field":"xhi"},
      "y":{"field":"r","type":"quantitative","scale":{"domain":[0.75,1.257],"nice":false,"zero":false},"axis":null}}},
    {"data":{"name":"ratio"},"transform":[{"filter":"datum.p=='C'&&datum.m=='H'"}],"mark":{"type":"rule","color":"#1c1c8a","strokeWidth":1.3,"clip":true},
     "encoding":{"x":{"field":"x","type":"quantitative"},"y":{"field":"rlo","type":"quantitative","axis":null},"y2":{"field":"rhi"}}},
    {"data":{"name":"ratio"},"transform":[{"filter":"datum.p=='C'&&datum.m=='P'"}],"mark":{"type":"rule","color":"#2ca02c","strokeWidth":1.2,"strokeDash":[2,2],"clip":true},
     "encoding":{"x":{"field":"xlo","type":"quantitative"},"x2":{"field":"xhi"},"y":{"field":"r","type":"quantitative","axis":null}}},
    {"data":{"name":"ratio"},"transform":[{"filter":"datum.p=='C'&&datum.m=='P'"}],"mark":{"type":"rule","color":"#2ca02c","strokeWidth":1.2,"strokeDash":[2,2],"clip":true},
     "encoding":{"x":{"field":"x","type":"quantitative"},"y":{"field":"rlo","type":"quantitative","axis":null},"y2":{"field":"rhi"}}}
   ]}
  ]},
  {"spacing":0,"vconcat":[
   {"width":213.3,"height":134.8,"layer":[
    {"data":{"name":"band"},"transform":[{"filter":"datum.p=='D'&&datum.m=='P'"}],"mark":{"type":"area","color":"#74c476","opacity":0.45,"clip":true},
     "encoding":{"x":{"field":"x","type":"quantitative","scale":{"domain":[1,5.5],"nice":false,"zero":false},"axis":{"values":[1,1.5,2,2.5,3,3.5,4,4.5,5,5.5],"tickCount":30,"labels":false,"tickSize":-5,"title":null}},
      "y":{"field":"lo","type":"quantitative","scale":{"domain":[0.641,1.209],"nice":false,"zero":false},"axis":{"values":[0.7,0.8,0.9,1,1.1,1.2],"tickCount":30,"format":".1~f","labelOverlap":false,"tickSize":-4,"labelPadding":9,"title":"\u03A9\u0304\u207A/\u03A9\u207B","titleAnchor":"end","titleFontSize":12,"titlePadding":5}},
      "y2":{"field":"hi"}}},
    {"data":{"name":"band"},"transform":[{"filter":"datum.p=='D'&&datum.m=='H'"}],"mark":{"type":"area","color":"#7b7bd6","opacity":0.55,"clip":true},
     "encoding":{"x":{"field":"x","type":"quantitative"},"y":{"field":"lo","type":"quantitative"},"y2":{"field":"hi"}}},
    {"data":{"name":"band"},"transform":[{"filter":"datum.p=='D'&&datum.m=='P'"}],"mark":{"type":"line","color":"#2ca02c","strokeWidth":1,"strokeDash":[2,2],"clip":true},
     "encoding":{"x":{"field":"x","type":"quantitative"},"y":{"field":"c","type":"quantitative"}}},
    {"data":{"name":"band"},"transform":[{"filter":"datum.p=='D'&&datum.m=='H'"}],"mark":{"type":"line","color":"#1c1c8a","strokeWidth":1.5,"clip":true},
     "encoding":{"x":{"field":"x","type":"quantitative"},"y":{"field":"c","type":"quantitative"}}},
    {"data":{"name":"one"},"mark":{"type":"rule","color":"#333","strokeDash":[2,2],"strokeWidth":1},"encoding":{"y":{"field":"v","type":"quantitative"}}},
    {"data":{"name":"pts"},"transform":[{"filter":"datum.p=='D'"}],"mark":{"type":"rect","fill":"transparent","stroke":"#111","strokeWidth":1,"clip":true},
     "encoding":{"x":{"field":"xlo","type":"quantitative"},"x2":{"field":"xhi"},"y":{"field":"slo","type":"quantitative"},"y2":{"field":"shi"}}},
    {"data":{"name":"pts"},"transform":[{"filter":"datum.p=='D'"}],"mark":{"type":"rule","color":"#111","strokeWidth":1,"clip":true},
     "encoding":{"x":{"field":"x","type":"quantitative"},"y":{"field":"elo","type":"quantitative"},"y2":{"field":"ehi"}}},
    {"data":{"name":"pts"},"transform":[{"filter":"datum.p=='D'"}],"mark":{"type":"circle","color":"#000","size":16,"opacity":1},
     "encoding":{"x":{"field":"x","type":"quantitative"},"y":{"field":"y","type":"quantitative"}}},
    {"data":{"name":"legbox"},"transform":[{"filter":"datum.p=='D'&&datum.m=='P'"}],"mark":{"type":"rect","fill":"#74c476","fillOpacity":0.5,"stroke":"#2ca02c","strokeDash":[2,1],"strokeWidth":1},
     "encoding":{"x":{"field":"xa","type":"quantitative"},"x2":{"field":"xb"},"y":{"field":"ya","type":"quantitative"},"y2":{"field":"yb"}}},
    {"data":{"name":"legbox"},"transform":[{"filter":"datum.p=='D'&&datum.m=='H'"}],"mark":{"type":"rect","fill":"#7b7bd6","fillOpacity":0.6,"stroke":"#3a3aa8","strokeWidth":1},
     "encoding":{"x":{"field":"xa","type":"quantitative"},"x2":{"field":"xb"},"y":{"field":"ya","type":"quantitative"},"y2":{"field":"yb"}}},
    {"data":{"name":"legdot"},"transform":[{"filter":"datum.p=='D'"}],"mark":{"type":"circle","color":"#000","size":14,"opacity":1},
     "encoding":{"x":{"field":"x","type":"quantitative"},"y":{"field":"y","type":"quantitative"}}},
    {"data":{"name":"legtxt"},"transform":[{"filter":"datum.p=='D'"}],"mark":{"type":"text","align":"left","baseline":"middle","fontSize":8.5,"font":"Liberation Sans","color":"#111","clip":true},
     "encoding":{"x":{"field":"x","type":"quantitative"},"y":{"field":"y","type":"quantitative"},"text":{"field":"t"}}},
    {"data":{"name":"ttl"},"transform":[{"filter":"datum.p=='D'"}],"mark":{"type":"text","align":"left","baseline":"middle","fontSize":10,"font":"Liberation Sans","color":"#a8232e","clip":true},
     "encoding":{"x":{"field":"x","type":"quantitative"},"y":{"field":"y","type":"quantitative"},"text":{"field":"t"}}}
   ]},
   {"width":213.3,"height":80.2,"layer":[
    {"data":{"name":"one"},"mark":{"type":"rule","color":"#333","strokeDash":[2,2],"strokeWidth":1},"encoding":{"y":{"field":"v","type":"quantitative"}}},
    {"data":{"name":"ratio"},"transform":[{"filter":"datum.p=='D'&&datum.m=='H'"}],"mark":{"type":"rule","color":"#1c1c8a","strokeWidth":1.3,"clip":true},
     "encoding":{"x":{"field":"xlo","type":"quantitative","scale":{"domain":[1,5.5],"nice":false,"zero":false},"axis":{"values":[1,1.5,2,2.5,3,3.5,4,4.5,5,5.5],"tickCount":30,"format":".1~f","labelOverlap":false,"tickSize":-5,"labelPadding":4,"title":"pT (GeV/c)","titleAnchor":"end","titlePadding":1}},"x2":{"field":"xhi"},
      "y":{"field":"r","type":"quantitative","scale":{"domain":[0.736,1.243],"nice":false,"zero":false},"axis":{"values":[0.8,1,1.2],"tickCount":30,"format":".1~f","labelOverlap":false,"tickSize":-4,"labelPadding":9,"title":"Model/Data","titleAnchor":"end","titleFontSize":11.5,"titlePadding":5}}}},
    {"data":{"name":"ratio"},"transform":[{"filter":"datum.p=='D'&&datum.m=='H'"}],"mark":{"type":"rule","color":"#1c1c8a","strokeWidth":1.3,"clip":true},
     "encoding":{"x":{"field":"x","type":"quantitative"},"y":{"field":"rlo","type":"quantitative"},"y2":{"field":"rhi"}}},
    {"data":{"name":"ratio"},"transform":[{"filter":"datum.p=='D'&&datum.m=='P'"}],"mark":{"type":"rule","color":"#2ca02c","strokeWidth":1.2,"strokeDash":[2,2],"clip":true},
     "encoding":{"x":{"field":"xlo","type":"quantitative"},"x2":{"field":"xhi"},"y":{"field":"r","type":"quantitative"}}},
    {"data":{"name":"ratio"},"transform":[{"filter":"datum.p=='D'&&datum.m=='P'"}],"mark":{"type":"rule","color":"#2ca02c","strokeWidth":1.2,"strokeDash":[2,2],"clip":true},
     "encoding":{"x":{"field":"x","type":"quantitative"},"y":{"field":"rlo","type":"quantitative"},"y2":{"field":"rhi"}}}
   ]}
  ]}
 ]}
]
}
